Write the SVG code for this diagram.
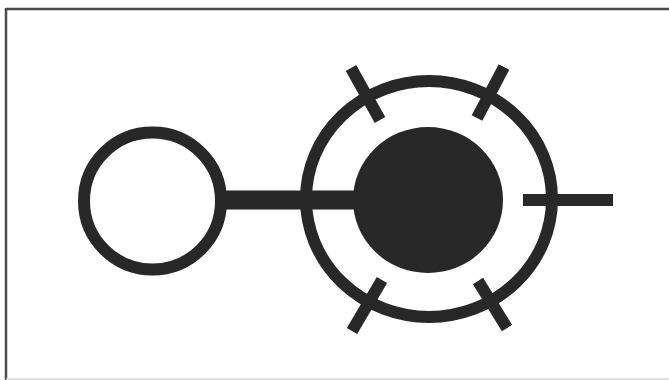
<svg xmlns="http://www.w3.org/2000/svg" width="669" height="380" viewBox="0 0 669 380">
<style>
.ink{fill:none;stroke:#282828;stroke-width:12}
.tick{stroke:#282828;stroke-width:12;stroke-linecap:butt}
.solid{fill:#282828}
</style>
<rect width="669" height="380" fill="#fff"/>
<g id="frame">
<line x1="6" y1="9" x2="669" y2="9" stroke="#4a4a4a" stroke-width="2.5"/>
<line x1="6" y1="8" x2="6" y2="380" stroke="#4a4a4a" stroke-width="2.5"/>
<line x1="6" y1="379" x2="669" y2="379" stroke="#d8d8d8" stroke-width="1.5"/>
</g>
<g id="connectors">
<rect x="222" y="190.5" width="136" height="19" class="solid"/>
<rect x="523" y="194" width="90" height="12" class="solid"/>
</g>
<g id="node-left">
<circle cx="152.5" cy="201" r="68.5" class="ink"/>
</g>
<g id="node-ring">
<ellipse cx="429" cy="199" rx="123" ry="118" class="ink"/>
<line x1="351" y1="68" x2="380" y2="120" class="tick"/>
<line x1="504" y1="67" x2="477" y2="118" class="tick"/>
<line x1="382" y1="280" x2="352" y2="331" class="tick"/>
<line x1="478" y1="281" x2="507" y2="328" class="tick"/>
</g>
<g id="node-core">
<ellipse cx="428" cy="200" rx="75" ry="73" class="solid"/>
</g>
</svg>
